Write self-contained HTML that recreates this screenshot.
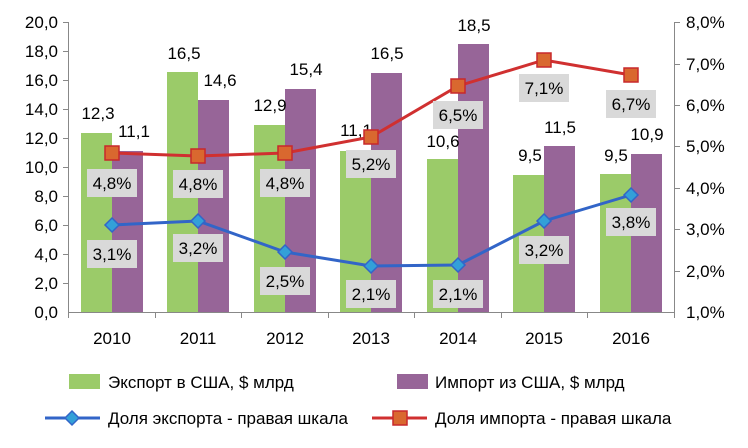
<!DOCTYPE html><html><head><meta charset="utf-8"><style>body{margin:0;background:#fff}svg{display:block;font-family:"Liberation Sans",sans-serif}</style></head><body>
<svg width="748" height="448" viewBox="0 0 748 448">
<g stroke="#888" stroke-width="1">
<line x1="68.5" y1="22" x2="68.5" y2="312"/><line x1="674.5" y1="22" x2="674.5" y2="312"/>
<line x1="68" y1="312.5" x2="675" y2="312.5"/>
</g>
<g stroke="#888">
<line x1="63" x2="68" y1="22.5" y2="22.5"/><line x1="63" x2="68" y1="51.5" y2="51.5"/><line x1="63" x2="68" y1="80.5" y2="80.5"/><line x1="63" x2="68" y1="109.5" y2="109.5"/><line x1="63" x2="68" y1="138.5" y2="138.5"/><line x1="63" x2="68" y1="167.5" y2="167.5"/><line x1="63" x2="68" y1="196.5" y2="196.5"/><line x1="63" x2="68" y1="225.5" y2="225.5"/><line x1="63" x2="68" y1="254.5" y2="254.5"/><line x1="63" x2="68" y1="283.5" y2="283.5"/>
<line x1="675" x2="680" y1="22.5" y2="22.5"/><line x1="675" x2="680" y1="64.5" y2="64.5"/><line x1="675" x2="680" y1="105.5" y2="105.5"/><line x1="675" x2="680" y1="146.5" y2="146.5"/><line x1="675" x2="680" y1="188.5" y2="188.5"/><line x1="675" x2="680" y1="229.5" y2="229.5"/><line x1="675" x2="680" y1="271.5" y2="271.5"/>
<line x1="68.5" x2="68.5" y1="312" y2="318"/><line x1="155.5" x2="155.5" y1="312" y2="318"/><line x1="241.5" x2="241.5" y1="312" y2="318"/><line x1="328.5" x2="328.5" y1="312" y2="318"/><line x1="414.5" x2="414.5" y1="312" y2="318"/><line x1="501.5" x2="501.5" y1="312" y2="318"/><line x1="587.5" x2="587.5" y1="312" y2="318"/><line x1="674.5" x2="674.5" y1="312" y2="318"/>
</g>
<g font-size="17" fill="#000" text-anchor="end">
<text x="58" y="28">20,0</text><text x="58" y="57">18,0</text><text x="58" y="86">16,0</text><text x="58" y="115">14,0</text><text x="58" y="144">12,0</text><text x="58" y="173">10,0</text><text x="58" y="202">8,0</text><text x="58" y="231">6,0</text><text x="58" y="260">4,0</text><text x="58" y="289">2,0</text><text x="58" y="318">0,0</text>
</g>
<g font-size="17" fill="#000">
<text x="686" y="28">8,0%</text><text x="686" y="70">7,0%</text><text x="686" y="111">6,0%</text><text x="686" y="152">5,0%</text><text x="686" y="194">4,0%</text><text x="686" y="235">3,0%</text><text x="686" y="277">2,0%</text><text x="686" y="318">1,0%</text>
</g>
<g font-size="17" text-anchor="middle">
<text x="112" y="344">2010</text><text x="198" y="344">2011</text><text x="285" y="344">2012</text><text x="371" y="344">2013</text><text x="458" y="344">2014</text><text x="544" y="344">2015</text><text x="631" y="344">2016</text>
</g>
<g fill="#9bcb69">
<rect x="81" y="133" width="31" height="179"/><rect x="167" y="72" width="31" height="240"/><rect x="254" y="125" width="31" height="187"/><rect x="340" y="151" width="31" height="161"/><rect x="427" y="159" width="31" height="153"/><rect x="513" y="175" width="31" height="137"/><rect x="600" y="174" width="31" height="138"/>
</g>
<g fill="#976598">
<rect x="112" y="151" width="31" height="161"/><rect x="198" y="100" width="31" height="212"/><rect x="285" y="89" width="31" height="223"/><rect x="371" y="73" width="31" height="239"/><rect x="458" y="44" width="31" height="268"/><rect x="544" y="146" width="31" height="166"/><rect x="631" y="154" width="31" height="158"/>
</g>
<g font-size="17" text-anchor="middle">
<text x="98" y="119">12,3</text><text x="134" y="137">11,1</text>
<text x="184" y="59">16,5</text><text x="220" y="86">14,6</text>
<text x="270" y="111">12,9</text><text x="306" y="75">15,4</text>
<text x="356" y="136">11,1</text><text x="387" y="59">16,5</text>
<text x="443" y="147">10,6</text><text x="474" y="31">18,5</text>
<text x="530" y="161">9,5</text><text x="560" y="133">11,5</text>
<text x="616" y="161">9,5</text><text x="647" y="140">10,9</text>
</g>
<polyline points="112,153 198,156 285,153 371,137 458,86 544,60 631,75" fill="none" stroke="#d03030" stroke-width="3"/>
<g fill="#d9682f" stroke="#c8282b" stroke-width="1.5">
<rect x="105" y="146" width="14" height="14"/><rect x="191" y="149" width="14" height="14"/><rect x="278" y="146" width="14" height="14"/><rect x="364" y="130" width="14" height="14"/><rect x="451" y="79" width="14" height="14"/><rect x="537" y="53" width="14" height="14"/><rect x="624" y="68" width="14" height="14"/>
</g>
<polyline points="112,225 198,221 285,252 371,266 458,265 544,221 631,195" fill="none" stroke="#3265c8" stroke-width="3"/>
<g fill="#33a0d8" stroke="#3265c8" stroke-width="1.5">
<polygon points="112,218 119,225 112,232 105,225"/><polygon points="198,214 205,221 198,228 191,221"/><polygon points="285,245 292,252 285,259 278,252"/><polygon points="371,259 378,266 371,273 364,266"/><polygon points="458,258 465,265 458,272 451,265"/><polygon points="544,214 551,221 544,228 537,221"/><polygon points="631,188 638,195 631,202 624,195"/>
</g>
<g fill="#d9d9d9">
<rect x="87" y="169" width="50" height="28"/><rect x="173" y="170" width="50" height="28"/><rect x="260" y="169" width="50" height="28"/><rect x="346" y="150" width="50" height="28"/><rect x="433" y="101" width="50" height="28"/><rect x="519" y="74" width="50" height="28"/><rect x="606" y="90" width="50" height="28"/>
<rect x="87" y="240" width="50" height="28"/><rect x="173" y="234" width="50" height="28"/><rect x="260" y="267" width="50" height="28"/><rect x="346" y="280" width="50" height="28"/><rect x="433" y="280" width="50" height="28"/><rect x="519" y="236" width="50" height="28"/><rect x="606" y="208" width="50" height="28"/>
</g>
<g font-size="17" text-anchor="middle">
<text x="112" y="189">4,8%</text><text x="198" y="190">4,8%</text><text x="285" y="189">4,8%</text><text x="371" y="170">5,2%</text><text x="458" y="121">6,5%</text><text x="544" y="94">7,1%</text><text x="631" y="110">6,7%</text>
<text x="112" y="260">3,1%</text><text x="198" y="254">3,2%</text><text x="285" y="287">2,5%</text><text x="371" y="300">2,1%</text><text x="458" y="300">2,1%</text><text x="544" y="256">3,2%</text><text x="631" y="228">3,8%</text>
</g>
<rect x="69" y="374" width="31" height="15" fill="#9bcb69"/>
<text x="108" y="388" font-size="17">Экспорт в США, $ млрд</text>
<rect x="397" y="374" width="31" height="15" fill="#976598"/>
<text x="435" y="388" font-size="17">Импорт из США, $ млрд</text>
<line x1="45" y1="418" x2="100" y2="418" stroke="#3265c8" stroke-width="3"/>
<polygon points="72,411 79,418 72,425 65,418" fill="#33a0d8" stroke="#3265c8" stroke-width="1.5"/>
<text x="108" y="424" font-size="17">Доля экспорта - правая шкала</text>
<line x1="372" y1="418" x2="427" y2="418" stroke="#d03030" stroke-width="3"/>
<rect x="393" y="411" width="14" height="14" fill="#d9682f" stroke="#c8282b" stroke-width="1.5"/>
<text x="435" y="424" font-size="17">Доля импорта - правая шкала</text>
</svg></body></html>
